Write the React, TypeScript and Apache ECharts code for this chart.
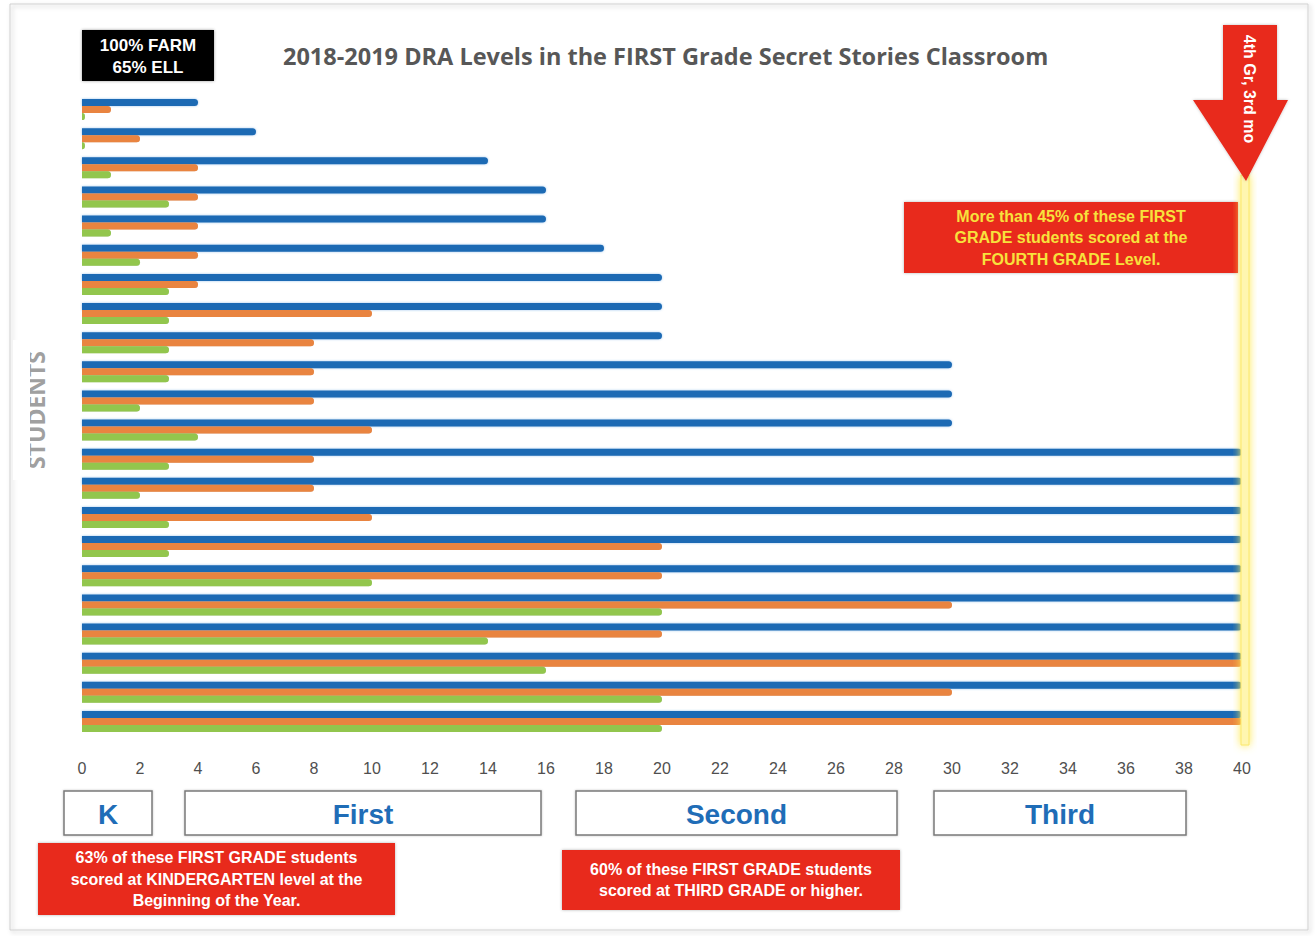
import React, { useEffect, useRef } from "react";
import * as echarts from "echarts";

const students = [
  "S1", "S2", "S3", "S4", "S5", "S6", "S7", "S8", "S9", "S10", "S11",
  "S12", "S13", "S14", "S15", "S16", "S17", "S18", "S19", "S20", "S21", "S22",
];
const endOfYear = [4, 6, 14, 16, 16, 18, 20, 20, 20, 30, 30, 30, 40, 40, 40, 40, 40, 40, 40, 40, 40, 40];
const midYear = [1, 2, 4, 4, 4, 4, 4, 10, 8, 8, 8, 10, 8, 8, 10, 20, 20, 30, 20, 40, 30, 40];
const beginningOfYear = [0.1, 0.1, 1, 3, 1, 2, 3, 3, 3, 3, 2, 4, 3, 2, 3, 3, 10, 20, 14, 16, 20, 20];

const title = "2018-2019 DRA Levels in the FIRST Grade Secret Stories Classroom";
const gradeBands = ["K", "First", "Second", "Third"];

export default function App() {
  const ref = useRef<HTMLDivElement>(null);
  useEffect(() => {
    document.body.style.margin = "0";
    const chart = echarts.init(ref.current!, null, { renderer: "svg" });
    const barCommon = {
      type: "bar",
      barWidth: 7,
      barGap: "0%",
      barCategoryGap: "0%",
      animation: false,
    };
    const redFill = "#e8291c";
    const boxText = (
      x: number, y: number, w: number, h: number, lines: string,
      color: string
    ) => ({
      type: "group",
      z: 20,
      children: [
        {
          type: "rect",
          shape: { x, y, width: w, height: h },
          style: { fill: redFill, shadowBlur: 3, shadowColor: "rgba(0,0,0,0.3)" },
        },
        {
          type: "text",
          x: x + w / 2,
          y: y + h / 2,
          style: {
            text: lines,
            fill: color,
            font: "bold 16px 'Liberation Sans', Arial, sans-serif",
            align: "center",
            verticalAlign: "middle",
            lineHeight: 21.5,
          },
        },
      ],
    });
    const gradeBox = (x: number, w: number, label: string) => ({
      type: "group",
      z: 20,
      children: [
        {
          type: "rect",
          shape: { x, y: 791, width: w, height: 44 },
          style: {
            fill: "#fff",
            stroke: "#7a7a7a",
            lineWidth: 1.5,
            shadowBlur: 2,
            shadowColor: "rgba(0,0,0,0.25)",
          },
        },
        {
          type: "text",
          x: x + w / 2,
          y: 814,
          style: {
            text: label,
            fill: "#1f6db7",
            font: "bold 28px 'Liberation Sans', Arial, sans-serif",
            align: "center",
            verticalAlign: "middle",
          },
        },
      ],
    });

    chart.setOption({
      animation: false,
      backgroundColor: "#ffffff",
      grid: { left: 82, right: 1315 - 1242, top: 95, bottom: 200, containLabel: false },
      xAxis: {
        type: "value",
        min: 0,
        max: 40,
        interval: 2,
        axisLine: { show: false },
        axisTick: { show: false },
        splitLine: { show: false },
        axisLabel: {
          color: "#4f4f4f",
          fontSize: 16,
          margin: 24,
          fontFamily: "'Liberation Sans', Arial, sans-serif",
        },
      },
      yAxis: {
        type: "category",
        data: students,
        inverse: true,
        axisLine: { show: false },
        axisTick: { show: false },
        axisLabel: { show: false },
        splitLine: { show: false },
      },
      series: [
        {
          ...barCommon,
          name: "End of Year",
          data: endOfYear,
          itemStyle: {
            color: "#1b6ab4",
            borderRadius: [0, 4, 4, 0],
            shadowBlur: 2,
            shadowColor: "rgba(60,140,220,0.5)",
          },
        },
        {
          ...barCommon,
          name: "Middle of Year",
          data: midYear,
          itemStyle: {
            color: "#e9843f",
            borderRadius: [0, 4, 4, 0],
            shadowBlur: 1,
            shadowColor: "rgba(120,60,20,0.35)",
          },
        },
        {
          ...barCommon,
          name: "Beginning of Year",
          data: beginningOfYear,
          itemStyle: {
            color: "#92c64d",
            borderRadius: [0, 4, 4, 0],
            shadowBlur: 1,
            shadowColor: "rgba(60,110,20,0.35)",
          },
        },
      ],
      graphic: [
        {
          type: "rect",
          z: 0,
          silent: true,
          shape: { x: 10, y: 4, width: 1298, height: 926 },
          style: {
            fill: "none",
            stroke: "#cfcfcf",
            lineWidth: 1,
            shadowBlur: 4,
            shadowColor: "rgba(0,0,0,0.25)",
            shadowOffsetX: 2,
            shadowOffsetY: 2,
          },
        },
        {
          type: "text",
          z: 20,
          x: 283,
          y: 56,
          style: {
            text: title,
            fill: "#575757",
            font: "bold 23.5px 'Open Sans', sans-serif",
            align: "left",
            verticalAlign: "middle",
          },
        },
        {
          type: "group",
          z: 20,
          children: [
            {
              type: "rect",
              shape: { x: 82, y: 30, width: 132, height: 51 },
              style: { fill: "#050505", shadowBlur: 3, shadowColor: "rgba(0,0,0,0.4)" },
            },
            {
              type: "text",
              x: 148,
              y: 56,
              style: {
                text: "100% FARM\n65% ELL",
                fill: "#fff",
                font: "bold 17px 'Liberation Sans Narrow', 'Liberation Sans', Arial, sans-serif",
                align: "center",
                verticalAlign: "middle",
                lineHeight: 22,
              },
            },
          ],
        },
        {
          type: "text",
          z: 20,
          x: 36,
          y: 410,
          rotation: Math.PI / 2,
          style: {
            text: "STUDENTS",
            fill: "#a0a0a0",
            font: "bold 23px 'Open Sans', sans-serif",
            align: "center",
            verticalAlign: "middle",
          },
        },
        {
          type: "rect",
          z: 21,
          silent: true,
          shape: { x: 13, y: 340, width: 17, height: 140 },
          style: { fill: "#ffffff" },
        },
        {
          type: "rect",
          z: 15,
          silent: true,
          shape: { x: 1241, y: 175, width: 8, height: 570 },
          style: {
            fill: "#fff6b0",
            stroke: "#fbe86a",
            lineWidth: 1,
            shadowBlur: 8,
            shadowColor: "#ffe94d",
          },
        },
        {
          type: "polygon",
          z: 21,
          shape: {
            points: [
              [1223, 25], [1277, 25], [1277, 100], [1288, 100],
              [1246, 181], [1193, 100], [1223, 100],
            ],
          },
          style: { fill: "#e8291c", shadowBlur: 3, shadowColor: "rgba(0,0,0,0.25)" },
        },
        {
          type: "text",
          z: 22,
          x: 1249,
          y: 89,
          rotation: -Math.PI / 2,
          style: {
            text: "4th Gr, 3rd mo",
            fill: "#fff",
            font: "bold 16px 'Liberation Sans', Arial, sans-serif",
            align: "center",
            verticalAlign: "middle",
          },
        },
        boxText(
          904, 202, 334, 71,
          "More than 45% of these FIRST\nGRADE students scored at the\nFOURTH GRADE Level.",
          "#f7e23c"
        ),
        gradeBox(64, 88, gradeBands[0]),
        gradeBox(185, 356, gradeBands[1]),
        gradeBox(576, 321, gradeBands[2]),
        gradeBox(934, 252, gradeBands[3]),
        boxText(
          38, 843, 357, 72,
          "63% of these FIRST GRADE students\nscored at KINDERGARTEN level at the\nBeginning of the Year.",
          "#ffffff"
        ),
        boxText(
          562, 850, 338, 60,
          "60% of these FIRST GRADE students\nscored at THIRD GRADE or higher.",
          "#ffffff"
        ),
      ],
    });
    return () => chart.dispose();
  }, []);
  return (
    <div
      ref={ref}
      style={{ position: "absolute", left: 0, top: 0, width: 1315, height: 936 }}
    />
  );
}
